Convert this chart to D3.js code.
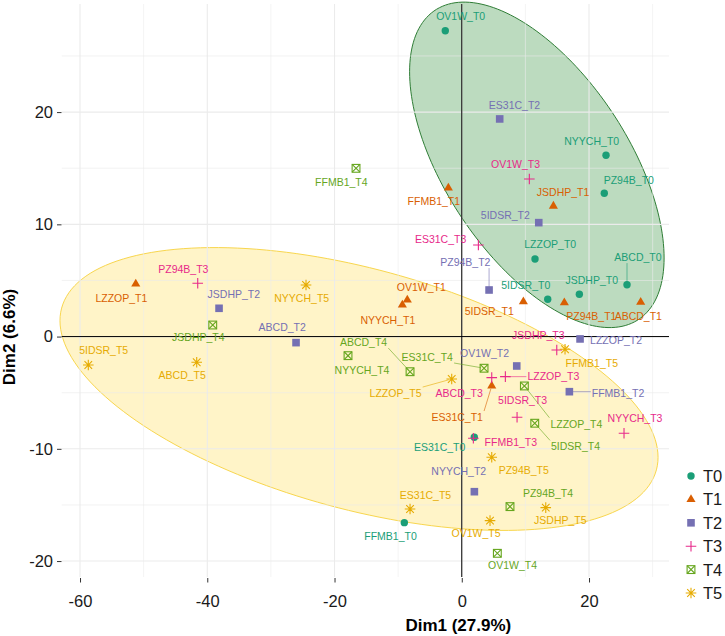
<!DOCTYPE html>
<html>
<head>
<meta charset="utf-8">
<script src="https://cdn.jsdelivr.net/npm/d3@7"></script>
<style>
  body { margin: 0; background: #fff; }
  svg { display: block; font-family: "Liberation Sans", Arial, sans-serif; }
</style>
</head>
<body>
<script>
// samples, same order in every Dim array
const samples = ["OV1W", "ES31C", "NYYCH", "PZ94B", "JSDHP", "FFMB1", "5IDSR", "LZZOP", "ABCD"];
const groups = ["T0", "T1", "T2", "T3", "T4", "T5"];

const dim1_T0 = [-2.59, 1.97, 22.67, 22.40, 18.48, -9.03, 13.51, 11.51, 25.97];
const dim2_T0 = [27.25, -8.97, 16.15, 12.77, 3.77, -16.58, 3.32, 6.91, 4.62];
const dim1_T1 = [-8.56, 4.71, -9.34, 16.12, 14.40, -2.11, 9.68, -51.24, 28.12];
const dim2_T1 = [3.26, -4.40, 2.82, 3.02, 11.63, 13.24, 3.11, 4.69, 3.06];
const dim1_T2 = [8.64, 5.96, 1.98, 4.29, -38.15, 16.91, 12.10, 18.59, -26.05];
const dim2_T2 = [-2.62, 19.39, -13.82, 4.15, 2.52, -4.91, 10.15, -0.21, -0.54];
const dim1_T3 = [10.62, 2.61, 25.50, -41.50, 14.93, 1.82, 8.69, 6.85, 4.71];
const dim2_T3 = [14.04, 8.16, -8.61, 4.75, -1.19, -9.06, -7.19, -3.57, -3.66];
const dim1_T4 = [5.59, 3.50, -17.88, 7.58, -39.14, -16.62, 11.47, 9.84, -8.13];
const dim2_T4 = [-19.31, -2.82, -1.70, -15.15, 1.03, 14.99, -7.72, -4.40, -3.13];
const dim1_T5 = [4.44, -8.13, -24.48, 4.71, 13.20, 16.23, -58.70, -1.58, -41.66];
const dim2_T5 = [-16.40, -15.36, 4.60, -10.75, -15.24, -1.13, -2.53, -3.78, -2.29];

const xTicks = [-60, -40, -20, 0, 20];
const yTicks = [-20, -10, 0, 10, 20];
const xMinor = [-50, -30, -10, 10, 30];
const yMinor = [-15, -5, 5, 15, 25];

// ellipse (centre, sd's, correlation) for the two highlighted clusters
const ellipseGroups = ["T0", "T5"];
const ellipseCentre = [[11.8, 15.3], [-16.15, -4.67]];
const ellipseSd = [[20.0, 14.5], [47.0, 12.6]];
const ellipseCor = [-0.572, -0.483];

const colors = ["#1B9E77", "#D95F02", "#7570B3", "#E7298A", "#66A61E", "#E6AB02"];
const ellipseFill = ["#bcdbbf", "#fff4c8"];
const ellipseStroke = ["#2f7d36", "#f8d64e"];

// label nudges in px (text centre relative to point), like ggrepel output
const labelNudge = {
  T0: [[15.4, -14], [-34.6, 10.4], [-14.3, -14.3], [24.5, -13.3], [12.4, -14.3], [-13.8, 13.3], [-22, -14.3], [15.2, -14.7], [11, -27.4]],
  T1: [[14, -12.7], [-34.5, 31.3], [-14.5, 15], [27, 13.3], [9.7, -13.7], [-14.5, 13.7], [-34.1, 9.3], [-14.4, 14.3], [-2.4, 13.7]],
  T2: [[-32.2, -12.7], [14.8, -14], [-15.6, -20.7], [-23.7, -27.7], [14.8, -14], [48.7, 1.3], [-33.4, -7], [36, 1], [-13.8, -15]],
  T3: [[-13.8, -14.7], [-37.8, -6], [11, -15], [-14.4, -14.3], [-18.4, -15], [37.5, 4.4], [5.5, -17.3], [48, 0], [-32.5, 15.6]],
  T4: [[15.2, 12.4], [-56.8, -11], [14, 14.3], [38, -13.4], [-14.4, 12.7], [-14.7, 14], [40.8, 23.4], [52, 38], [-46.5, -29.4]],
  T5: [[-14, 12.6], [15.5, -14], [-4.3, 13.3], [32, 12.7], [14.6, 13], [26.7, 14], [15.4, -14.3], [-56.2, 14.3], [-14.5, 12.7]]
};

const dims = {
  T0: [dim1_T0, dim2_T0], T1: [dim1_T1, dim2_T1], T2: [dim1_T2, dim2_T2],
  T3: [dim1_T3, dim2_T3], T4: [dim1_T4, dim2_T4], T5: [dim1_T5, dim2_T5]
};

const points = [];
groups.forEach((g, gi) => {
  samples.forEach((s, i) => {
    points.push({ name: `${s}_${g}`, group: g, gi: gi, x: dims[g][0][i], y: dims[g][1][i], nudge: labelNudge[g][i] });
  });
});

const width = 725, height = 636;
const panel = { left: 61.7, right: 669, top: 4, bottom: 577 };

const svg = d3.select("body").append("svg")
  .attr("width", width)
  .attr("height", height);

const x = d3.scaleLinear().domain([-62.88, 32.57]).range([panel.left, panel.right]);
const y = d3.scaleLinear().domain([-21.42, 29.63]).range([panel.bottom, panel.top]);

// ellipses
const line = d3.line().x(d => x(d[0])).y(d => y(d[1])).curve(d3.curveLinearClosed);
ellipseGroups.forEach((g, k) => {
  const [cx, cy] = ellipseCentre[k];
  const [sx, sy] = ellipseSd[k];
  const r = ellipseCor[k];
  const pts = d3.range(0, 361, 2).map(a => {
    const t = a * Math.PI / 180;
    return [cx + sx * Math.cos(t), cy + sy * (r * Math.cos(t) + Math.sqrt(1 - r * r) * Math.sin(t))];
  });
  svg.append("path")
    .attr("d", line(pts))
    .attr("fill", ellipseFill[k])
    .attr("stroke", ellipseStroke[k])
    .attr("stroke-width", 1);
});

// grid
const grid = svg.append("g").attr("stroke", "#ebebeb");
grid.selectAll(".gx").data(xTicks.concat(xMinor)).enter().append("line")
  .attr("x1", d => x(d)).attr("x2", d => x(d))
  .attr("y1", panel.top).attr("y2", panel.bottom)
  .attr("stroke-width", d => xTicks.includes(d) ? 1.1 : 0.6);
grid.selectAll(".gy").data(yTicks.concat(yMinor)).enter().append("line")
  .attr("y1", d => y(d)).attr("y2", d => y(d))
  .attr("x1", panel.left).attr("x2", panel.right)
  .attr("stroke-width", d => yTicks.includes(d) ? 1.1 : 0.6);

// zero lines
svg.append("line").attr("x1", x(0)).attr("x2", x(0)).attr("y1", panel.top).attr("y2", panel.bottom)
  .attr("stroke", "#000").attr("stroke-width", 1);
svg.append("line").attr("y1", y(0)).attr("y2", y(0)).attr("x1", panel.left).attr("x2", panel.right)
  .attr("stroke", "#000").attr("stroke-width", 1);

// axes
const xAxis = svg.append("g")
  .attr("transform", `translate(0, ${panel.bottom + 1})`)
  .call(d3.axisBottom(x).tickValues(xTicks).tickSize(4.5).tickPadding(12.5).tickFormat(d3.format("d")));
const yAxis = svg.append("g")
  .attr("transform", `translate(${panel.left - 0.2}, 0)`)
  .call(d3.axisLeft(y).tickValues(yTicks).tickSize(4.5).tickPadding(4).tickFormat(d3.format("d")));
[xAxis, yAxis].forEach(a => {
  a.select(".domain").remove();
  a.selectAll(".tick line").attr("stroke", "#333");
  a.selectAll(".tick text").attr("fill", "#1a1a1a").style("font-size", "16.5px").style("font-family", "Liberation Sans, Arial, sans-serif");
});
// plain hyphen minus like R
svg.selectAll(".tick text").text(d => String(d).replace("\u2212", "-"));

// axis titles
svg.append("text")
  .attr("x", 458.3).attr("y", 631)
  .attr("text-anchor", "middle")
  .style("font-size", "17px").style("font-weight", "bold")
  .text("Dim1 (27.9%)");
svg.append("text")
  .attr("transform", "translate(14.5, 337) rotate(-90)")
  .attr("text-anchor", "middle")
  .style("font-size", "17px").style("font-weight", "bold")
  .text("Dim2 (6.6%)");

// symbols
function drawShape(sel, gi, cx, cy) {
  const c = colors[gi];
  const g = sel.append("g").attr("transform", `translate(${cx}, ${cy})`);
  if (gi === 0) {
    g.append("circle").attr("r", 3.7).attr("fill", c);
  } else if (gi === 1) {
    g.append("path").attr("d", d3.symbol(d3.symbolTriangle, 36)()).attr("fill", c);
  } else if (gi === 2) {
    g.append("rect").attr("x", -3.8).attr("y", -3.8).attr("width", 7.6).attr("height", 7.6).attr("fill", c);
  } else if (gi === 3) {
    g.append("path").attr("d", "M-5.3,0H5.3M0,-5.3V5.3").attr("stroke", c).attr("stroke-width", 1.1).attr("fill", "none");
  } else if (gi === 4) {
    g.append("rect").attr("x", -3.9).attr("y", -3.9).attr("width", 7.8).attr("height", 7.8)
      .attr("fill", "none").attr("stroke", c).attr("stroke-width", 1.1);
    g.append("path").attr("d", "M-3.9,-3.9L3.9,3.9M-3.9,3.9L3.9,-3.9").attr("stroke", c).attr("stroke-width", 1.1);
  } else {
    g.append("path").attr("d", "M-5.3,0H5.3M0,-5.3V5.3M-3.8,-3.8L3.8,3.8M-3.8,3.8L3.8,-3.8")
      .attr("stroke", c).attr("stroke-width", 1.1).attr("fill", "none");
  }
}

const segLayer = svg.append("g");
const pointLayer = svg.append("g");
const labelLayer = svg.append("g");

points.forEach(p => drawShape(pointLayer, p.gi, x(p.x), y(p.y)));

// labels + leader segments
points.forEach(p => {
  const px = x(p.x), py = y(p.y);
  const lx = px + p.nudge[0], ly = py + p.nudge[1];
  const t = labelLayer.append("text")
    .attr("x", lx).attr("y", ly).attr("dy", "0.36em")
    .attr("text-anchor", "middle")
    .attr("fill", colors[p.gi])
    .style("font-size", "10.5px")
    .text(p.name);
  const bb = t.node().getBBox();
  const bx = Math.max(bb.x - 1, Math.min(px, bb.x + bb.width + 1));
  const by = Math.max(bb.y, Math.min(py, bb.y + bb.height));
  const dist = Math.hypot(bx - px, by - py);
  if (dist > 18) {
    const k = 3 / dist;
    segLayer.append("line")
      .attr("x1", px + (bx - px) * k).attr("y1", py + (by - py) * k)
      .attr("x2", bx).attr("y2", by)
      .attr("stroke", colors[p.gi]).attr("stroke-width", 0.6);
  }
});

// legend
const legend = svg.append("g").attr("transform", "translate(691, 476)");
groups.forEach((g, i) => {
  drawShape(legend, i, 0, i * 23.4);
  legend.append("text")
    .attr("x", 12).attr("y", i * 23.4).attr("dy", "0.36em")
    .style("font-size", "16.5px").attr("fill", "#1a1a1a")
    .text(g);
});
</script>
</body>
</html>
